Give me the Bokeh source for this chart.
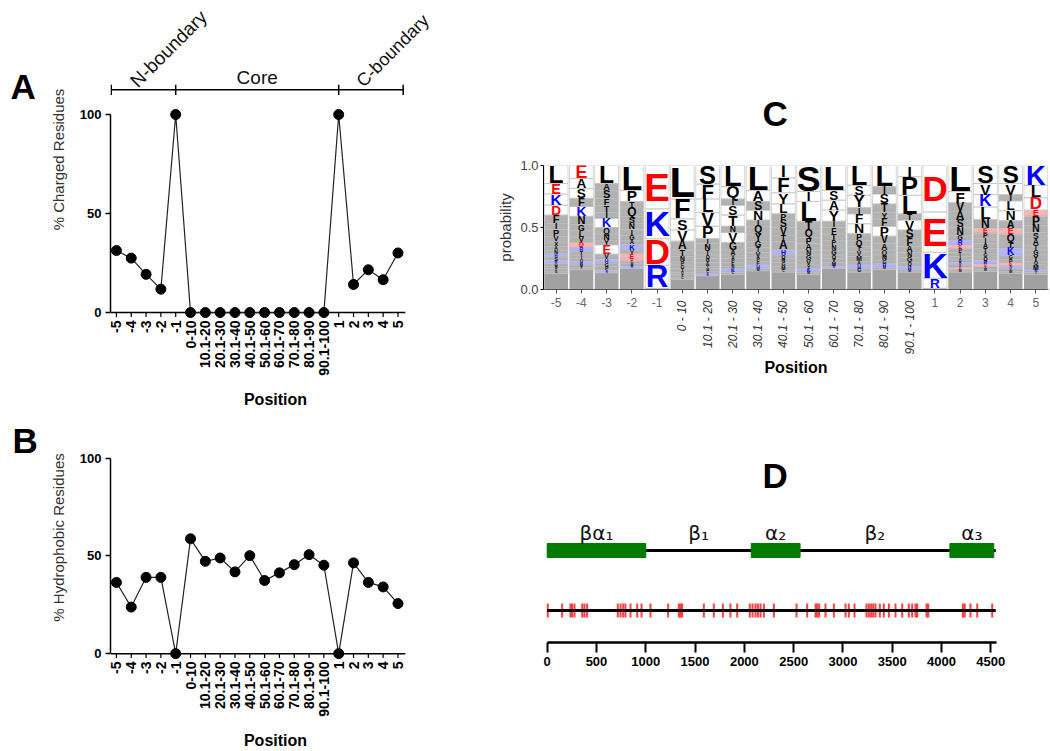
import math
from bokeh.plotting import figure
from bokeh.models import ColumnDataSource, Range1d, FixedTicker, LinearAxis, Label, NumeralTickFormatter
from bokeh.layouts import row, column
from bokeh.embed import file_html
from bokeh.resources import INLINE
from bokeh.core.properties import value

FONT = "Liberation Sans"

# ---------------- data: panels A & B ----------------
positions = ["-5", "-4", "-3", "-2", "-1", "0-10", "10.1-20", "20.1-30", "30.1-40", "40.1-50",
             "50.1-60", "60.1-70", "70.1-80", "80.1-90", "90.1-100", "1", "2", "3", "4", "5"]
charged = [31.3, 27.5, 19.3, 11.8, 100, 0, 0, 0, 0, 0, 0, 0, 0, 0, 0, 100, 14.2, 21.6, 16.6, 30.1]
hydrophobic = [36.4, 23.8, 39.0, 39.0, 0, 58.7, 47.2, 48.9, 41.8, 50.1, 37.4, 41.3, 45.5, 50.6, 45.2,
               0, 46.4, 36.4, 34.1, 25.6]
region_names = ["N-boundary", "Core", "C-boundary"]
region_edges = [-0.35, 4, 15, 19.35]

# ---------------- data: panel C (sequence logo) ----------------
logo_labels = ["-5", "-4", "-3", "-2", "-1", "0 - 10", "10.1 - 20", "20.1 - 30", "30.1 - 40", "40.1 - 50",
               "50.1 - 60", "60.1 - 70", "70.1 - 80", "80.1 - 90", "90.1 - 100", "1", "2", "3", "4", "5"]
logo_letters = [
    "LEKDFIPVXANHSRQMTG",
    "EASFKNGLVDRTIQHMY",
    "LASFTIKQNYEVHGPR",
    "LPTQSNIGAKVEDCMR",
    "EKDR",
    "LFSVATNPGIQYC",
    "SFLVPINTQGAYMCK",
    "LQISTNVGAYPFMKC",
    "LASNIQYGTVPFHM",
    "IFYLPSVTAHQNGMC",
    "SILTQPANGVYKM",
    "LSAYIFTPNGQVMR",
    "LSYIFNPQTVMAHG",
    "LISTYFPVAQNGHM",
    "IPLTVSFANGQHM",
    "DEKR",
    "LFVASNGREPTIQKYDM",
    "SVKLNEPIATGQRDYM",
    "SVILNAEQTKGPDRYM",
    "KLDEPNSATGYQMRI",
]
logo_probs = [
    [.145, .085, .09, .08, .065, .05, .055, .045, .035, .03, .03, .025, .03, .025, .02, .02, .02, .02],
    [.105, .08, .08, .065, .08, .065, .05, .05, .045, .04, .03, .03, .03, .025, .025, .02, .02],
    [.145, .055, .065, .055, .055, .05, .075, .05, .05, .04, .075, .04, .03, .03, .03, .02],
    [.2, .09, .05, .07, .055, .05, .045, .04, .035, .045, .03, .04, .02, .02, .02, .02],
    [.35, .24, .215, .185],
    [.27, .16, .09, .09, .07, .05, .04, .03, .03, .03, .02, .02, .02],
    [.15, .12, .11, .11, .10, .04, .05, .04, .03, .03, .03, .02, .02, .02, .02],
    [.17, .10, .05, .08, .09, .05, .08, .06, .04, .03, .03, .03, .02, .03, .02],
    [.20, .09, .07, .08, .05, .06, .06, .05, .04, .04, .03, .03, .03, .02],
    [.10, .12, .09, .08, .05, .06, .06, .05, .07, .04, .03, .03, .03, .03, .02],
    [.21, .08, .16, .07, .06, .05, .05, .04, .04, .04, .03, .03, .02],
    [.20, .08, .08, .09, .05, .05, .05, .04, .04, .04, .03, .03, .03, .02],
    [.16, .08, .10, .05, .08, .08, .05, .05, .04, .04, .04, .03, .03, .03],
    [.17, .06, .08, .07, .05, .06, .08, .06, .05, .04, .04, .03, .03, .02],
    [.09, .15, .15, .05, .08, .07, .06, .05, .04, .04, .03, .03, .02],
    [.375, .325, .21, .08],
    [.21, .09, .07, .07, .06, .06, .04, .04, .03, .03, .03, .03, .02, .02, .02, .02, .02],
    [.145, .09, .10, .10, .07, .04, .04, .04, .04, .04, .03, .03, .03, .02, .02, .02],
    [.145, .09, .05, .08, .08, .06, .05, .06, .05, .06, .03, .03, .025, .02, .02, .02],
    [.16, .10, .10, .05, .07, .06, .05, .05, .04, .04, .05, .03, .04, .02, .02],
]
acidic = "DE"
basic = "KRH"

# ---------------- data: panel D ----------------
domain_names = ["βα₁", "α₂", "α₃"]
domain_start = [0, 2070, 4085]
domain_end = [1000, 2565, 4530]
linker_names = ["β₁", "β₂"]
protein_length = 4550
mutations = [6, 152, 236, 253, 277, 355, 378, 405, 716, 744, 771, 794, 845, 913, 957, 1048, 1227,
             1335, 1352, 1369, 1589, 1690, 1782, 1859, 1927, 2055, 2083, 2113, 2137, 2164, 2198, 2299,
             2529, 2637, 2722, 2739, 2759, 2823, 2908, 3026, 3060, 3117, 3239, 3263, 3286, 3307, 3330,
             3374, 3415, 3466, 3533, 3601, 3668, 3702, 3736, 3753, 3848, 3865, 4216, 4236, 4294, 4362, 4514]
d_ticks = [0, 500, 1000, 1500, 2000, 2500, 3000, 3500, 4000, 4500]


def clean(p):
    p.xgrid.visible = False
    p.ygrid.visible = False
    p.outline_line_color = None


def letter_fig(letter, width, height, x, y):
    f = figure(width=width, height=height, x_range=Range1d(0, width), y_range=Range1d(0, height),
               output_backend="svg", toolbar_location=None, x_axis_location=None, y_axis_location=None,
               min_border=0, frame_align=False)
    clean(f)
    f.text(x=[x], y=[y], text=[letter], text_font=value(FONT), text_font_style="bold",
           text_font_size="35px", text_align="left", text_baseline="middle", text_color="black")
    return f


def line_panel(vals, ylabel, height, y_top, border_bottom, label_standoff):
    p = figure(width=400, height=height, x_range=Range1d(-0.4, 21.87), y_range=Range1d(-3, y_top),
               output_backend="svg", toolbar_location=None, frame_align=False,
               min_border_left=70, min_border_right=0, min_border_top=0, min_border_bottom=border_bottom)
    clean(p)
    xs = list(range(len(positions)))
    src = ColumnDataSource(dict(x=xs, y=vals))
    p.segment(x0=[-0.4], y0=[0], x1=[19.5], y1=[0], line_color="black", line_width=1.5)
    p.segment(x0=xs, y0=[0] * len(xs), x1=xs, y1=[-2.2] * len(xs), line_color="black", line_width=1.2)
    p.line("x", "y", source=src, line_color="#222222", line_width=1.2)
    p.scatter("x", "y", source=src, size=10, fill_color="black", line_color="black")
    xa = p.xaxis[0]
    xa.ticker = FixedTicker(ticks=xs)
    xa.major_label_overrides = {i: lab for i, lab in enumerate(positions)}
    xa.major_label_orientation = math.pi / 2
    xa.axis_line_color = None
    xa.major_tick_line_color = None
    xa.minor_tick_line_color = None
    xa.major_tick_out = 0
    xa.major_tick_in = 0
    xa.major_label_standoff = 2
    xa.major_label_text_font = FONT
    xa.major_label_text_font_style = "bold"
    xa.major_label_text_font_size = "14px"
    xa.major_label_text_color = "black"
    xa.axis_label = "Position"
    xa.axis_label_text_font = FONT
    xa.axis_label_text_font_style = "bold"
    xa.axis_label_text_font_size = "16px"
    xa.axis_label_text_color = "black"
    xa.axis_label_standoff = label_standoff
    ya = p.yaxis[0]
    ya.bounds = (0, 100)
    ya.ticker = FixedTicker(ticks=[0, 50, 100])
    ya.minor_tick_line_color = None
    ya.major_tick_out = 5
    ya.major_tick_in = 0
    ya.axis_line_width = 1.5
    ya.major_tick_line_width = 1.5
    ya.major_label_standoff = 4
    ya.major_label_text_font = FONT
    ya.major_label_text_font_style = "bold"
    ya.major_label_text_font_size = "13px"
    ya.major_label_text_color = "black"
    ya.axis_label = ylabel
    ya.axis_label_text_font = FONT
    ya.axis_label_text_font_style = "normal"
    ya.axis_label_text_font_size = "15px"
    ya.axis_label_text_color = "#333333"
    ya.axis_label_standoff = 10
    return p


# ---------------- Panel A ----------------
figA = letter_fig("A", 40, 415, 10, 415 - 85.5)
pA = line_panel(charged, "% Charged Residues", 415, 157.6, 97, 12)
yb = 112.5
pA.segment(x0=[region_edges[0]], y0=[yb], x1=[region_edges[-1]], y1=[yb], line_color="black", line_width=1.5)
pA.segment(x0=region_edges, y0=[yb - 2.6] * 4, x1=region_edges, y1=[yb + 2.6] * 4,
           line_color="black", line_width=1.5)
pA.add_layout(Label(x=region_edges[0] + 1.5, y=115.5, text=region_names[0], angle=45, angle_units="deg",
                    text_font=FONT, text_font_size="19px", text_align="left", text_baseline="alphabetic",
                    text_color="#111111"))
pA.add_layout(Label(x=(region_edges[1] + region_edges[2]) / 2, y=118.7, text=region_names[1],
                    text_font=FONT, text_font_size="19px", text_align="center", text_baseline="middle",
                    text_color="#111111"))
pA.add_layout(Label(x=region_edges[2] + 1.4, y=115.5, text=region_names[2], angle=45, angle_units="deg",
                    text_font=FONT, text_font_size="18px", text_align="left", text_baseline="alphabetic",
                    text_color="#111111"))

# ---------------- Panel B ----------------
figB = letter_fig("B", 40, 336, 12, 336 - 24.5)
pB = line_panel(hydrophobic, "% Hydrophobic Residues", 336, 121.75, 89, 12)

# ---------------- Panel C (letter strip + logo) ----------------
px_x = 505.0 / 20
px_y = 124.0
figC = letter_fig("C", 610, 150, 762 - 440, 150 - 112.5)
pC = figure(width=610, height=265, x_range=Range1d(-0.5, 19.5), y_range=Range1d(0, 1),
            output_backend="svg", toolbar_location=None, frame_align=False,
            min_border_left=103, min_border_right=2, min_border_top=15, min_border_bottom=126)
clean(pC)
box_w = 0.94
adv = dict(A=.722, C=.722, D=.722, E=.667, F=.611, G=.778, H=.722, I=.278, K=.722, L=.611, M=.833,
           N=.722, P=.667, Q=.778, R=.722, S=.667, T=.611, V=.667, W=.944, X=.667, Y=.667)
tx, ty, tt, tfs, tc = [], [], [], [], []
bx, by, bh, bc, ba = [], [], [], [], []
rx, ry, rh = [], [], []
for i, (letters, probs) in enumerate(zip(logo_letters, logo_probs)):
    rest = max(0.0, 1.0 - sum(probs))
    rx.append(i); ry.append(rest / 2); rh.append(rest)
    bottom = rest
    for ch, pr in reversed(list(zip(letters, probs))):
        h_px = pr * px_y
        fs = min(h_px / 0.73, box_w * px_x / (adv[ch] * 0.93))
        col = "#ff0000" if ch in acidic else ("#0000ff" if ch in basic else "#000000")
        tx.append(i)
        ty.append(bottom + pr / 2)
        tt.append(ch)
        tfs.append("%.1fpx" % fs)
        tc.append(col)
        bx.append(i); by.append(bottom + pr / 2); bh.append(pr); bc.append(col)
        ba.append(0.3 if h_px < 9 else 0.0)
        bottom += pr
pC.rect(x=rx, y=ry, width=box_w, height=rh, fill_color="#8a8a8a", fill_alpha=0.8, line_color=None)
pC.rect(x="x", y="y", width=box_w, height="h", fill_color="c", fill_alpha="a", line_color="#c4c4c4",
        line_width=0.7, source=ColumnDataSource(dict(x=bx, y=by, h=bh, c=bc, a=ba)))
pC.text(x="x", y="y", text="t", text_font_size="fs", text_color="c",
        source=ColumnDataSource(dict(x=tx, y=ty, t=tt, fs=tfs, c=tc)),
        text_align="center", text_baseline="middle", text_font=value(FONT), text_font_style="bold")
num_idx = [i for i, l in enumerate(logo_labels) if " - " not in l]
rng_idx = [i for i, l in enumerate(logo_labels) if " - " in l]
ax1 = pC.xaxis[0]
ax1.ticker = FixedTicker(ticks=list(range(20)))
ax1.major_label_overrides = {i: (logo_labels[i] if i in num_idx else "") for i in range(20)}
ax1.major_tick_out = 4
ax1.major_tick_in = 0
ax1.minor_tick_line_color = None
ax1.axis_line_color = "#555555"
ax1.major_tick_line_color = "#555555"
ax1.major_label_text_font = FONT
ax1.major_label_text_font_size = "12px"
ax1.major_label_text_color = "#666666"
ax1.major_label_standoff = 4
ax2 = LinearAxis(ticker=FixedTicker(ticks=rng_idx),
                 major_label_overrides={i: logo_labels[i] for i in rng_idx},
                 major_label_orientation=math.pi / 2, axis_line_color=None,
                 major_tick_line_color=None, minor_tick_line_color=None,
                 major_tick_out=0, major_tick_in=0, major_label_standoff=-9,
                 major_label_text_font=FONT, major_label_text_font_style="italic",
                 major_label_text_font_size="12px", major_label_text_color="#333333",
                 axis_label="Position", axis_label_text_font=FONT, axis_label_text_font_style="bold",
                 axis_label_text_font_size="16px", axis_label_text_color="black", axis_label_standoff=1)
pC.add_layout(ax2, "below")
yc = pC.yaxis[0]
yc.ticker = FixedTicker(ticks=[0, 0.5, 1])
yc.formatter = NumeralTickFormatter(format="0.0")
yc.minor_tick_line_color = None
yc.major_tick_out = 3
yc.major_tick_in = 0
yc.major_label_standoff = 2
yc.major_label_text_font = FONT
yc.major_label_text_font_size = "13px"
yc.major_label_text_color = "#444444"
yc.axis_label = "probability"
yc.axis_label_text_font = FONT
yc.axis_label_text_font_style = "normal"
yc.axis_label_text_font_size = "15px"
yc.axis_label_text_color = "#333333"
yc.axis_label_standoff = 3

# ---------------- Panel D ----------------
pD = figure(width=610, height=336, x_range=Range1d(-47.7, 5085), y_range=Range1d(0, 227),
            output_backend="svg", toolbar_location=None, y_axis_location=None, frame_align=False,
            min_border_left=102, min_border_right=2, min_border_top=0, min_border_bottom=109)
clean(pD)
y_dom = 92
y_mut = 32
pD.segment(x0=[0], y0=[y_dom], x1=[protein_length], y1=[y_dom], line_color="black", line_width=3)
pD.quad(left=domain_start, right=domain_end, bottom=[y_dom - 7] * 3, top=[y_dom + 7] * 3,
        fill_color="#007a00", line_color="#007a00")
lab_x = [(s + e) / 2 for s, e in zip(domain_start, domain_end)]
lab_x += [(domain_end[0] + domain_start[1]) / 2, (domain_end[1] + domain_start[2]) / 2]
lab_t = domain_names + linker_names
pD.text(x=lab_x, y=[y_dom + 18] * 5, text=lab_t, text_font=value("DejaVu Sans"), text_font_size="20px",
        text_align="center", text_baseline="middle", text_color="#111111")
pD.segment(x0=mutations, y0=[y_mut - 7] * len(mutations), x1=mutations, y1=[y_mut + 7] * len(mutations),
           line_color="#ff0000", line_width=2, line_alpha=0.75)
pD.segment(x0=[0], y0=[y_mut], x1=[protein_length], y1=[y_mut], line_color="black", line_width=3)
xd = pD.xaxis[0]
xd.bounds = (0, 4560)
xd.ticker = FixedTicker(ticks=d_ticks)
xd.minor_tick_line_color = None
xd.major_tick_out = 10
xd.major_tick_in = 0
xd.axis_line_width = 2.5
xd.major_tick_line_width = 2
xd.major_label_standoff = 4
xd.major_label_text_font = FONT
xd.major_label_text_font_style = "bold"
xd.major_label_text_font_size = "13px"
xd.major_label_text_color = "black"
pD.add_layout(Label(x=2184, y=167, text="D", text_font=FONT, text_font_style="bold",
                    text_font_size="35px", text_align="left", text_baseline="middle", text_color="black"))

left = column(row(figA, pA), row(figB, pB))
right = column(figC, pC, pD)
layout = row(left, right)
open("out.html", "w").write(file_html(layout, INLINE))
